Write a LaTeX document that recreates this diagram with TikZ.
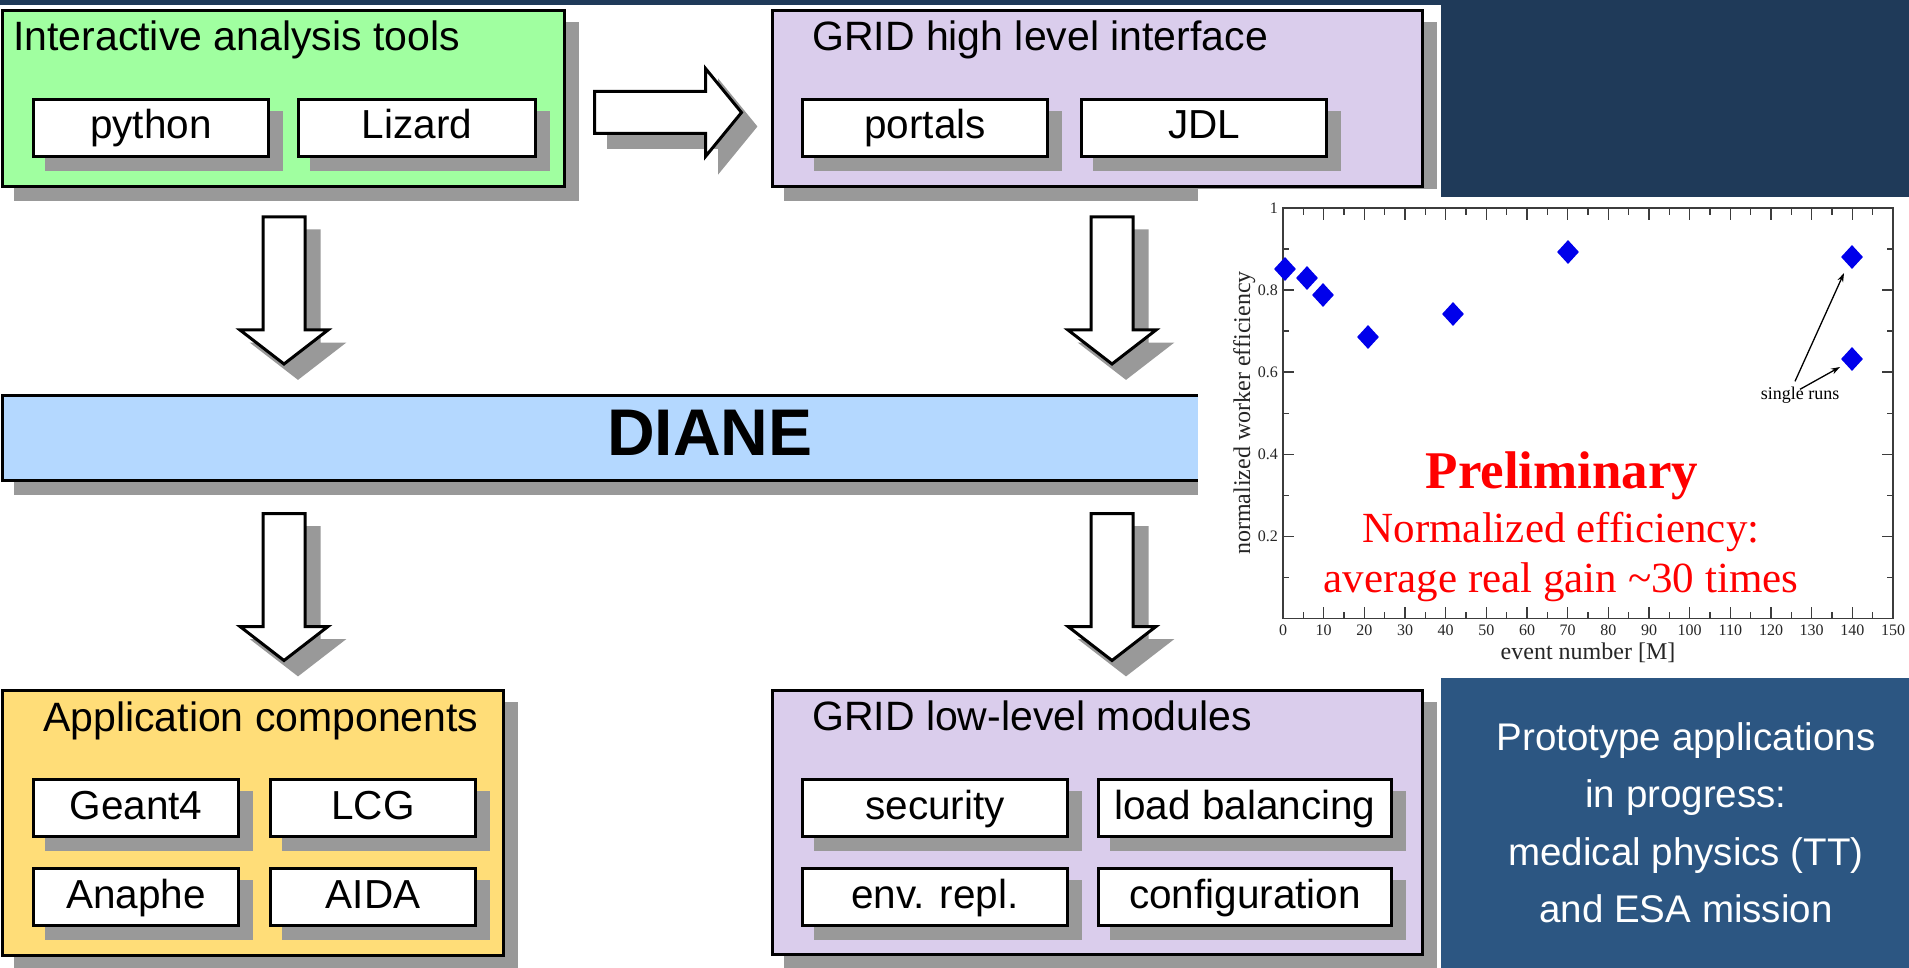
\documentclass[tikz,border=0pt]{standalone}
\usepackage{fontspec}
\setmainfont{Liberation Sans}
\newfontfamily\plotfont{Liberation Serif}
\usetikzlibrary{shapes.geometric,shadows,arrows.meta}

\definecolor{shgray}{RGB}{153,153,153}
\definecolor{toolgreen}{RGB}{160,255,160}
\definecolor{gridpurple}{RGB}{218,205,236}
\definecolor{appyellow}{RGB}{255,221,120}
\definecolor{dianeblue}{RGB}{180,216,255}
\definecolor{navytop}{RGB}{31,58,89}
\definecolor{navybot}{RGB}{44,86,130}
\definecolor{diamblue}{RGB}{0,0,235}
\definecolor{plotgray}{RGB}{60,60,60}

\newcommand\fsz[1]{\fontsize{#1}{#1}\selectfont}

\begin{document}
\begin{tikzpicture}[x=1pt,y=-1pt,
  shadowed/.style={drop shadow={shadow xshift=13pt,shadow yshift=-13pt,fill=shgray,draw=shgray,opacity=1}},
  bigbox/.style={draw=black,line width=3pt,rectangle,inner sep=0pt,shadowed},
  itembox/.style={draw=black,line width=3pt,fill=white,rectangle,inner sep=0pt,minimum height=57pt,text height=30pt,text depth=8pt,font=\fsz{40.5},shadowed},
  boxtitle/.style={anchor=base west,inner sep=0pt,font=\fsz{41}},
  blockarrow/.style={draw=black,line width=3pt,fill=white},
  plotline/.style={draw=plotgray,line width=1.5pt},
  ticklab/.style={inner sep=0pt,font=\plotfont\fsz{16},text=black!85},
  dpt/.style={diamond,fill=diamblue,inner sep=0pt,minimum width=22pt,minimum height=24pt},
  redtext/.style={anchor=base,inner sep=0pt,text=red},
  navytext/.style={anchor=base,inner sep=0pt,text=white,font=\fsz{38.5}},
  ptr/.style={draw=black,line width=1.3pt,-{Stealth[length=9pt,width=6pt]}},
  downarrow/.pic={
    \filldraw[shgray,line width=3pt,shift={(14,14)}] (-21,0) -- (21,0) -- (21,113) -- (44,113) -- (0,147) -- (-44,113) -- (-21,113) -- cycle;
    \filldraw[blockarrow] (-21,0) -- (21,0) -- (21,113) -- (44,113) -- (0,147) -- (-44,113) -- (-21,113) -- cycle;
  },
  rightarrow/.pic={
    \filldraw[shgray,line width=3pt,shift={(14,14)}] (0,-21) -- (111,-21) -- (111,-44) -- (147,0) -- (111,44) -- (111,21) -- (0,21) -- cycle;
    \filldraw[blockarrow] (0,-21) -- (111,-21) -- (111,-44) -- (147,0) -- (111,44) -- (111,21) -- (0,21) -- cycle;
  }
]
\useasboundingbox (0,0) rectangle (1909,968);
\fill[white] (0,0) rectangle (1909,968);
\fill[navytop] (0,0) rectangle (1909,5);

% Interactive analysis tools
\node[bigbox,fill=toolgreen,minimum width=562pt,minimum height=176pt] (tools) at (283.5,98.5) {};
\node[boxtitle] (toolsT) at (13,51) {Interactive analysis tools};
\node[itembox,minimum width=235pt] (python) at (151,128) {python};
\node[itembox,minimum width=237pt] (lizard) at (417,128) {Lizard};

% GRID high level interface
\node[bigbox,fill=gridpurple,minimum width=650pt,minimum height=176pt] (high) at (1097.5,98.5) {};
\node[boxtitle] (highT) at (812,51) {GRID high level interface};
\node[itembox,minimum width=245pt] (portals) at (925,128) {portals};
\node[itembox,minimum width=245pt] (jdl) at (1204,128) {JDL};

% Application components
\node[bigbox,fill=appyellow,minimum width=501pt,minimum height=265pt] (app) at (253,823) {};
\node[boxtitle] (appT) at (43,731) {Application components};
\node[itembox,minimum width=205pt] (geant) at (136,808) {Geant4};
\node[itembox,minimum width=205pt] (lcg) at (373,808) {LCG};
\node[itembox,minimum width=205pt] (anaphe) at (136,897) {Anaphe};
\node[itembox,minimum width=205pt] (aida) at (373,897) {AIDA};

% GRID low-level modules
\node[bigbox,fill=gridpurple,minimum width=650pt,minimum height=264pt] (low) at (1097.5,822.5) {};
\node[boxtitle] (lowT) at (812,730) {GRID low-level modules};
\node[itembox,minimum width=265pt] (security) at (935,808) {security};
\node[itembox,minimum width=293pt] (loadbal) at (1245,808) {load balancing};
\node[itembox,minimum width=265pt] (envrepl) at (935,897) {env. repl.};
\node[itembox,minimum width=293pt] (config) at (1245,897) {configuration};

% DIANE bar
\node[bigbox,fill=dianeblue,minimum width=1290pt,minimum height=85pt] (diane) at (647.5,438) {};
\node[anchor=base,inner sep=0pt,font=\bfseries\fsz{66}] (dianeT) at (710,455) {DIANE};

% block arrows
\coordinate (arR) at (594.5,112.5);
\coordinate (arUL) at (284,217);
\coordinate (arUR) at (1112,217);
\coordinate (arLL) at (284,513.5);
\coordinate (arLR) at (1112,513.5);
\pic at (arR) {rightarrow};
\pic at (arUL) {downarrow};
\pic at (arUR) {downarrow};
\pic at (arLL) {downarrow};
\pic at (arLR) {downarrow};

% plot panel and navy panels
\fill[white] (1198,189) rectangle (1909,678);
\fill[navytop] (1441,0) rectangle (1909,197);
\fill[navybot] (1441,678) rectangle (1909,968);

% plot frame and ticks
\draw[plotline] (1283,208) rectangle (1893,618.5);
\foreach \v in {0,10,...,150} {
  \draw[plotline] ({1283+4.0667*\v},618.5) -- ++(0,-12);
  \draw[plotline] ({1283+4.0667*\v},208) -- ++(0,12);
  \node[ticklab,anchor=north] (xl\v) at ({1283+4.0667*\v},625) {\v};
}
\foreach \v in {5,15,...,145} {
  \draw[plotline] ({1283+4.0667*\v},618.5) -- ++(0,-7);
  \draw[plotline] ({1283+4.0667*\v},208) -- ++(0,7);
}
\foreach \v in {0.2,0.4,0.6,0.8} {
  \draw[plotline] (1283,{618.5-410.5*\v}) -- ++(11,0);
  \draw[plotline] (1893,{618.5-410.5*\v}) -- ++(-11,0);
  \node[ticklab,anchor=east] (yl\v) at (1278,{618.5-410.5*\v}) {\v};
}
\node[ticklab,anchor=east] (yl1) at (1278,208) {1};
\foreach \v in {0.1,0.3,0.5,0.7,0.9} {
  \draw[plotline] (1283,{618.5-410.5*\v}) -- ++(6,0);
  \draw[plotline] (1893,{618.5-410.5*\v}) -- ++(-6,0);
}
\node[rotate=90,anchor=base,inner sep=0pt,font=\plotfont\fsz{24},text=black!85] (ylab) at (1250,413) {normalized worker efficiency};
\node[anchor=base,inner sep=0pt,font=\plotfont\fsz{24},text=black!85] (xlab) at (1588,659) {event number [M]};

% data points
\node[dpt] (d1) at (1285,269) {};
\node[dpt] (d2) at (1307,278) {};
\node[dpt] (d3) at (1323,295) {};
\node[dpt] (d4) at (1368,337) {};
\node[dpt] (d5) at (1453,314) {};
\node[dpt] (d6) at (1568,252) {};
\node[dpt] (d7) at (1852,257) {};
\node[dpt] (d8) at (1852,359) {};

% annotation
\node[anchor=base,inner sep=1pt,font=\plotfont\fsz{18}] (sr) at (1800,399) {single runs};
\coordinate (t1) at (1844,273);
\coordinate (t2) at (1840,367);
\draw[ptr] ([xshift=-5pt,yshift=4pt]sr.north) -- (t1);
\draw[ptr] ([xshift=0pt,yshift=-4pt]sr.north) -- (t2);

% red texts
\node[redtext,font=\plotfont\bfseries\fsz{53}] (prelim) at (1562,488) {Preliminary};
\node[redtext,font=\plotfont\fsz{43}] (norm) at (1561,542) {Normalized efficiency:};
\node[redtext,font=\plotfont\fsz{43}] (gain) at (1561,592) {average real gain \textasciitilde 30 times};

% navy text
\node[navytext] (n1) at (1686,750) {Prototype applications};
\node[navytext] (n2) at (1686,807) {in progress:};
\node[navytext] (n3) at (1686,865) {medical physics (TT)};
\node[navytext] (n4) at (1686,922) {and ESA mission};
\end{tikzpicture}
\end{document}
